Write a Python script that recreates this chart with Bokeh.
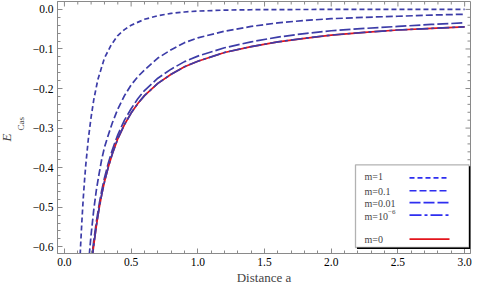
import math
from bokeh.plotting import figure
from bokeh.models import (Range1d, SingleIntervalTicker, CustomJSTickFormatter,
                          Label, BoxAnnotation, Title)
from bokeh.embed import file_html
from bokeh.resources import INLINE

# ---------------- data ----------------
a_m1 = [0.11, 0.12, 0.13, 0.14, 0.15, 0.16, 0.18, 0.20, 0.22, 0.25, 0.30, 0.35,
        0.40, 0.45, 0.50, 0.60, 0.70, 0.80, 0.90, 1.0, 1.2, 1.4, 1.6, 1.8, 2.0,
        2.5, 3.0]
e_m1 = [-0.680, -0.605, -0.540, -0.483, -0.435, -0.393, -0.325, -0.272, -0.228,
        -0.178, -0.123, -0.090, -0.066, -0.051, -0.040, -0.025, -0.016, -0.010,
        -0.0065, -0.0042, -0.0018, -0.0008, -0.0004, -0.0002, -0.0001, 0.0, 0.0]

a_m01 = [0.18, 0.19, 0.20, 0.22, 0.24, 0.26, 0.28, 0.30, 0.33, 0.36, 0.40, 0.45,
         0.50, 0.55, 0.60, 0.70, 0.80, 0.90, 1.0, 1.2, 1.4, 1.6, 1.8, 2.0, 2.25,
         2.5, 2.75, 3.0]
e_m01 = [-0.647, -0.606, -0.569, -0.506, -0.455, -0.415, -0.378, -0.349, -0.316,
         -0.286, -0.252, -0.218, -0.191, -0.170, -0.153, -0.123, -0.102, -0.084,
         -0.072, -0.055, -0.043, -0.034, -0.028, -0.0235, -0.020, -0.0173,
         -0.0143, -0.0122]

a_grid = [0.19, 0.20, 0.21, 0.22, 0.24, 0.26, 0.28, 0.30, 0.33, 0.36, 0.40, 0.45,
          0.50, 0.55, 0.60, 0.70, 0.80, 0.90, 1.0, 1.2, 1.4, 1.6, 1.8, 2.0, 2.25,
          2.5, 2.75, 3.0]
e_m001 = [-0.677, -0.643, -0.612, -0.584, -0.535, -0.493, -0.457, -0.426, -0.387,
          -0.354, -0.317, -0.280, -0.251, -0.226, -0.205, -0.174, -0.151, -0.132,
          -0.118, -0.097, -0.082, -0.070, -0.061, -0.054, -0.048, -0.043, -0.038,
          -0.034]
e_m1e6 = [-0.689, -0.654, -0.623, -0.595, -0.545, -0.503, -0.467, -0.436, -0.397,
          -0.364, -0.327, -0.291, -0.262, -0.238, -0.218, -0.187, -0.164, -0.145,
          -0.131, -0.109, -0.094, -0.082, -0.073, -0.065, -0.058, -0.052, -0.048,
          -0.044]
e_m0 = [-0.689, -0.654, -0.623, -0.595, -0.545, -0.503, -0.467, -0.436, -0.397,
        -0.364, -0.327, -0.291, -0.262, -0.238, -0.218, -0.187, -0.164, -0.145,
        -0.131, -0.109, -0.094, -0.082, -0.073, -0.065, -0.058, -0.052, -0.048,
        -0.044]

legend_labels = ["m=1", "m=0.1", "m=0.01", "m=10", "m=0"]
legend_sup = "\u22126"
x_label = "Distance a"
y_label_main = "E"
y_label_sub = "Cas"

# tick positions for the unlabeled top / right frame edges
x_major_ticks = [0.0, 0.5, 1.0, 1.5, 2.0, 2.5, 3.0]
x_minor_ticks = [0.1, 0.2, 0.3, 0.4, 0.6, 0.7, 0.8, 0.9, 1.1, 1.2, 1.3, 1.4,
                 1.6, 1.7, 1.8, 1.9, 2.1, 2.2, 2.3, 2.4, 2.6, 2.7, 2.8, 2.9]
y_major_ticks = [-0.6, -0.5, -0.4, -0.3, -0.2, -0.1, 0.0]
y_minor_ticks = [-0.58, -0.56, -0.54, -0.52, -0.48, -0.46, -0.44, -0.42,
                 -0.38, -0.36, -0.34, -0.32, -0.28, -0.26, -0.24, -0.22,
                 -0.18, -0.16, -0.14, -0.12, -0.08, -0.06, -0.04, -0.02]

# ---------------- styling / layout ----------------
FONT = "Liberation Serif"
BLUE = "#3c3ca8"
LEGEND_BLUE = "#2e2ef0"
RED = "#e3141c"
AXIS_GRAY = "#8a8a8a"

X0, X1 = -0.052, 3.044
Y0, Y1 = -0.617, 0.020
FL, FR, FT, FB = 57.0, 470.0, 1.0, 254.0   # frame edges in canvas pixels

p = figure(width=472, height=287, output_backend="svg", toolbar_location=None,
           x_range=Range1d(X0, X1), y_range=Range1d(Y0, Y1),
           min_border_left=57, min_border_right=2, min_border_top=1,
           min_border_bottom=33)
p.xgrid.visible = False
p.ygrid.visible = False
p.outline_line_color = AXIS_GRAY
p.background_fill_color = "white"
p.border_fill_color = "white"

fmt = CustomJSTickFormatter(code="""
const s = Math.abs(tick).toFixed(1);
return (tick < -1e-9) ? "\u2212" + s : s;
""")

p.xaxis.ticker = SingleIntervalTicker(interval=0.5, num_minor_ticks=5)
p.yaxis.ticker = SingleIntervalTicker(interval=0.1, num_minor_ticks=5)
for ax in list(p.xaxis) + list(p.yaxis):
    ax.axis_line_color = AXIS_GRAY
    ax.major_tick_line_color = AXIS_GRAY
    ax.minor_tick_line_color = AXIS_GRAY
    ax.major_tick_in = 5
    ax.major_tick_out = 0
    ax.minor_tick_in = 3
    ax.minor_tick_out = 0
    ax.major_label_text_font = FONT
    ax.major_label_text_color = "black"
    ax.major_label_text_font_size = "11.5px"
    ax.formatter = fmt
for ax in p.xaxis:
    ax.major_label_standoff = 4
    ax.axis_label = x_label
    ax.axis_label_text_font = FONT
    ax.axis_label_text_font_style = "normal"
    ax.axis_label_text_font_size = "13px"
    ax.axis_label_standoff = 1
for ax in p.yaxis:
    ax.major_label_standoff = 4

# y label E_Cas, as two side titles (subscript tucked next to the E, above it)
p.add_layout(Title(text=y_label_sub, text_font=FONT, text_font_size="9px",
                   text_font_style="normal", align="left", offset=123,
                   standoff=8), "left")
p.add_layout(Title(text=y_label_main, text_font=FONT, text_font_size="13px",
                   text_font_style="italic", align="left", offset=112,
                   standoff=-8), "left")

# inward ticks on the top and right frame edges (half of each dash is clipped)
p.scatter(x_major_ticks, [Y1] * len(x_major_ticks), marker="dash", size=10,
          angle=math.pi / 2, line_color=AXIS_GRAY, line_width=1)
p.scatter(x_minor_ticks, [Y1] * len(x_minor_ticks), marker="dash", size=6,
          angle=math.pi / 2, line_color=AXIS_GRAY, line_width=1)
p.scatter([X1] * len(y_major_ticks), y_major_ticks, marker="dash", size=10,
          line_color=AXIS_GRAY, line_width=1)
p.scatter([X1] * len(y_minor_ticks), y_minor_ticks, marker="dash", size=6,
          line_color=AXIS_GRAY, line_width=1)

# ---------------- curves ----------------
LW = 1.7
p.line(a_m1, e_m1, line_color=BLUE, line_width=LW, line_dash="5 3")
p.line(a_m01, e_m01, line_color=BLUE, line_width=LW, line_dash="7 3")
p.line(a_grid, e_m001, line_color=BLUE, line_width=LW, line_dash="11 3")
p.line(a_grid, e_m0, line_color=RED, line_width=LW)
p.line(a_grid, e_m1e6, line_color=BLUE, line_width=LW, line_dash="12 3 3 3")


# ---------------- helpers: canvas pixel -> data (for the legend box) ----------------
def dx(px):
    return X0 + (px - FL) / (FR - FL) * (X1 - X0)


def dy(py):
    return Y1 - (py - FT) / (FB - FT) * (Y1 - Y0)


# ---------------- legend (label left, sample right, as in reference) ----------------
BL, BT = 355.0, 165.0
p.add_layout(BoxAnnotation(left=dx(BL + 1.5), right=dx(BL + 115.0),
                           top=dy(BT + 1.5), bottom=dy(BT + 84.5),
                           fill_color="black", fill_alpha=1.0, line_alpha=0.0))
p.add_layout(BoxAnnotation(left=dx(BL), right=dx(BL + 113.5), top=dy(BT),
                           bottom=dy(BT + 83.0), fill_color="white",
                           fill_alpha=1.0, line_color="black", line_width=1.3))

text_rows = [12.0, 26.7, 38.3, 52.0, 75.0]
line_rows = [13.0, 26.0, 38.0, 50.5, 74.5]
dashes = ["5 3", "7 3", "11 3", "12 3 3 3", "solid"]
colors = [LEGEND_BLUE] * 4 + [RED]
for lab, ty in zip(legend_labels, text_rows):
    p.add_layout(Label(x=dx(BL + 9), y=dy(BT + ty), text=lab, text_font=FONT,
                       text_font_size="10px", text_baseline="middle",
                       text_align="left"))
p.add_layout(Label(x=dx(BL + 32.5), y=dy(BT + 47.5), text=legend_sup,
                   text_font=FONT, text_font_size="7px", text_baseline="middle",
                   text_align="left"))
for ly, d, c in zip(line_rows, dashes, colors):
    p.line([dx(BL + 54), dx(BL + 94)], [dy(BT + ly), dy(BT + ly)], line_color=c,
           line_width=LW, line_dash=d, level="overlay")

open("out.html", "w").write(file_html(p, INLINE))
